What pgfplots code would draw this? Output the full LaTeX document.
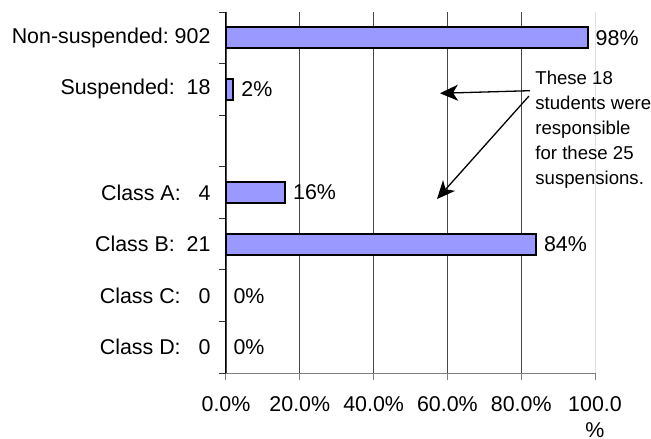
\documentclass[border=0pt]{standalone}
\usepackage{pgfplots}
\pgfplotsset{compat=1.18}
\usepackage{fontspec}
\setmainfont{Liberation Sans}
\usetikzlibrary{arrows.meta}
\definecolor{barblue}{HTML}{9999FF}
\begin{document}
\fontsize{10.7bp}{13bp}\selectfont
\begin{tikzpicture}
\useasboundingbox (-113bp,-33bp) rectangle (212.5bp,186.5bp);
\begin{axis}[
  at={(0,0)}, anchor=south west,
  scale only axis, width=184.5bp, height=180.5bp,
  xmin=0, xmax=100, ymin=-0.5, ymax=6.5,
  axis lines*=left,
  x axis line style={draw=gray, line width=0.5bp},
  y axis line style={draw=black, line width=0.5bp},
  tick align=outside,
  major tick length=3.5bp,
  xtick={0,20,40,60,80},
  xticklabels={0.0\%,20.0\%,40.0\%,60.0\%,80.0\%},
  extra x ticks={100},
  extra x tick labels={100.0\\\%},
  extra x tick style={grid style={draw=black!12, line width=0.5bp}},
  xticklabel style={align=center, yshift=-4.5bp},
  xtick style={draw=gray, line width=0.5bp},
  xmajorgrids,
  grid style={draw=black!72, line width=0.55bp},
  ytick={-0.5,0.5,...,6.5},
  yticklabels={},
  ytick style={draw=black!80, line width=0.5bp},
  extra y ticks={0,1,2,3,5,6},
  extra y tick labels={Class D:\ \ \ 0, Class C:\ \ \ 0, Class B:\ \ 21, Class A:\ \ \ 4, Suspended:\ \ 18, Non-suspended:\ 902},
  extra y tick style={ytick style={draw=none}, yticklabel style={xshift=-0.5bp}},
  clip=false,
  /pgf/number format/assume math mode=true,
]
\addplot[xbar, bar width=10.5bp, fill=barblue, draw=black, line width=0.95bp,
  point meta=x,
  nodes near coords={\pgfmathprintnumber{\pgfplotspointmeta}\%},
  every node near coord/.append style={text=black}]
  coordinates {(98,6) (2,5) (16,3) (84,2)};
\addplot[xbar, bar width=10.5bp, fill=none, draw=none,
  point meta=x,
  nodes near coords={\pgfmathprintnumber{\pgfplotspointmeta}\%},
  every node near coord/.append style={text=black}]
  coordinates {(0,1) (0,0)};
\node[anchor=north west, align=left, font=\fontsize{9.3bp}{12.5bp}\selectfont, inner sep=0pt]
  at (axis cs:83.74,5.356) {These 18\\students were\\responsible\\for these 25\\suspensions.};
\draw[-{Stealth[length=9bp,width=8bp,inset=2.5bp]}, line width=0.65bp] (axis cs:82.38,4.974) -- (axis cs:57.99,4.924);
\draw[-{Stealth[length=9bp,width=8bp,inset=2.5bp]}, line width=0.65bp] (axis cs:82.11,4.871) -- (axis cs:57.18,2.874);
\end{axis}
\end{tikzpicture}
\end{document}
